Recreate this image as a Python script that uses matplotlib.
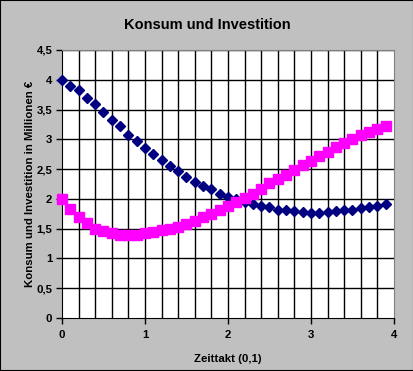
import numpy as np
import matplotlib
matplotlib.use("Agg")
import matplotlib.pyplot as plt
from matplotlib.patches import Rectangle

# Zeittakt 0 .. 3.9 in 0.1er Schritten
zeit = [0.0, 0.1, 0.2, 0.3, 0.4, 0.5, 0.6, 0.7, 0.8, 0.9,
        1.0, 1.1, 1.2, 1.3, 1.4, 1.5, 1.6, 1.7, 1.8, 1.9,
        2.0, 2.1, 2.2, 2.3, 2.4, 2.5, 2.6, 2.7, 2.8, 2.9,
        3.0, 3.1, 3.2, 3.3, 3.4, 3.5, 3.6, 3.7, 3.8, 3.9]

konsum = [4.00, 3.90, 3.82, 3.70, 3.59, 3.46, 3.33, 3.22, 3.08, 2.97,
          2.86, 2.75, 2.65, 2.55, 2.46, 2.37, 2.29, 2.22, 2.16, 2.09,
          2.04, 1.99, 1.95, 1.91, 1.88, 1.86, 1.82, 1.81, 1.79, 1.78,
          1.77, 1.77, 1.78, 1.79, 1.81, 1.81, 1.84, 1.86, 1.88, 1.91]

investition = [2.00, 1.83, 1.70, 1.60, 1.50, 1.46, 1.43, 1.40, 1.40, 1.40,
               1.42, 1.44, 1.47, 1.49, 1.53, 1.58, 1.63, 1.69, 1.75, 1.82,
               1.88, 1.95, 2.02, 2.08, 2.16, 2.26, 2.33, 2.40, 2.48, 2.57,
               2.64, 2.72, 2.79, 2.87, 2.94, 3.01, 3.08, 3.13, 3.18, 3.23]

y_ticks = [0, 0.5, 1, 1.5, 2, 2.5, 3, 3.5, 4, 4.5]
y_labels = ["0", "0,5", "1", "1,5", "2", "2,5", "3", "3,5", "4", "4,5"]
x_ticks = [0, 1, 2, 3, 4]
x_labels = ["0", "1", "2", "3", "4"]

plt.rcParams['font.family'] = ['Liberation Sans', 'DejaVu Sans']

fig = plt.figure(figsize=(4.14, 3.71), dpi=100, facecolor="#C0C0C0")
ax = fig.add_axes([62/414, 53/371, 332/414, 268/371])
ax.set_facecolor("white")

# Gitter
for gx in np.arange(0.2, 4.0, 0.2):
    ax.axvline(gx, color="black", lw=1.0, zorder=1)
for gy in y_ticks[1:]:
    ax.axhline(gy, color="black", lw=1.0, zorder=1)

ax.plot(zeit, konsum, ls="none", marker="D", ms=5.5, color="#000080", zorder=3, clip_on=False)
ax.plot(zeit, investition, ls="none", marker="s", ms=6.5, color="#FF00FF", zorder=3, clip_on=False)

ax.set_xlim(0, 4)
ax.set_ylim(0, 4.5)
ax.set_xticks(x_ticks)
ax.set_xticklabels(x_labels)
ax.set_yticks(y_ticks)
ax.set_yticklabels(y_labels)
ax.tick_params(direction="out", length=4, width=1, labelsize=8.2, pad=3)
ax.tick_params(axis="x", pad=5)
for lab in ax.get_xticklabels() + ax.get_yticklabels():
    lab.set_fontweight("bold")

ax.spines["left"].set_color("black")
ax.spines["bottom"].set_color("black")
ax.spines["top"].set_color("#808080")
ax.spines["right"].set_color("#808080")

ax.set_xlabel("Zeittakt (0,1)", fontsize=8.2, fontweight="bold", labelpad=10)
ax.set_ylabel("Konsum und Investition in Millionen \u20ac", fontsize=8.2, fontweight="bold", labelpad=1)
fig.text(0.5, 1 - 25/371, "Konsum und Investition", ha="center", va="center",
         fontsize=10.5, fontweight="bold")

fig.patches.append(Rectangle((0, 0), 1, 1, transform=fig.transFigure, fill=False,
                             edgecolor="black", lw=1.5))

fig.savefig("out.png", dpi=100, facecolor=fig.get_facecolor())
